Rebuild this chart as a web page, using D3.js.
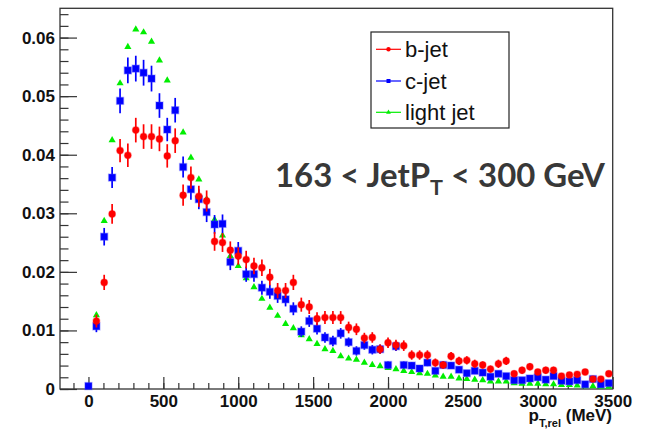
<!DOCTYPE html>
<html>
<head>
<meta charset="utf-8">
<script src="https://cdnjs.cloudflare.com/ajax/libs/d3/7.8.5/d3.min.js"></script>
<style>
  body { margin: 0; background: #fff; }
  svg { display: block; }
</style>
</head>
<body>
<svg width="646" height="429"></svg>
<script>
// bin centres of the pTrel histogram (MeV)
var binCenters = [0, 53, 105, 158, 211, 263, 316, 368, 421, 474, 526, 579, 632, 684, 737, 789,
    842, 895, 947, 1000, 1053, 1105, 1158, 1211, 1263, 1316, 1368, 1421, 1474, 1526, 1579, 1632,
    1684, 1737, 1789, 1842, 1895, 1947, 2000, 2053, 2105, 2158, 2211, 2263, 2316, 2368, 2421, 2474,
    2526, 2579, 2632, 2684, 2737, 2789, 2842, 2895, 2947, 3000, 3053, 3105, 3158, 3211, 3263, 3316,
    3368, 3421, 3474];

// normalised contents
var bJet = [null, 0.0116, 0.0182, 0.0299, 0.0407, 0.0399, 0.0442, 0.0431, 0.0431, 0.0427, 0.0398, 0.0424,
    0.0331, 0.0361, 0.0329, 0.0321, 0.0252, 0.0250, 0.0237, 0.0227, 0.0221, 0.0210, 0.0207, 0.0191,
    0.0168, 0.0168, 0.0182, 0.0144, 0.0140, 0.0120, 0.0122, 0.0122, 0.0122, 0.0105, 0.0102, 0.0087,
    0.0088, 0.0068, 0.0079, 0.0075, 0.0074, 0.0058, 0.0058, 0.0058, 0.0045, 0.0041, 0.0056, 0.0048,
    0.0049, 0.0043, 0.0041, 0.0034, 0.0043, 0.0048, 0.0026, 0.0032, 0.0038, 0.0029, 0.0032, 0.0032,
    0.0022, 0.0024, 0.0025, 0.0029, 0.0017, 0.0017, 0.0026];
var bJetErr = [0, 0.0011, 0.0013, 0.0017, 0.0020, 0.0020, 0.0021, 0.0021, 0.0021, 0.0021, 0.0020, 0.0021,
    0.0018, 0.0019, 0.0018, 0.0018, 0.0016, 0.0016, 0.0015, 0.0015, 0.0015, 0.0014, 0.0014, 0.0014,
    0.0013, 0.0013, 0.0013, 0.0012, 0.0012, 0.0011, 0.0011, 0.0011, 0.0011, 0.0010, 0.0010, 0.0009,
    0.0009, 0.0008, 0.0009, 0.0009, 0.0009, 0.0008, 0.0008, 0.0008, 0.0007, 0.0006, 0.0007, 0.0007,
    0.0007, 0.0007, 0.0006, 0.0006, 0.0007, 0.0007, 0.0005, 0.0006, 0.0006, 0.0005, 0.0006, 0.0006,
    0.0005, 0.0005, 0.0005, 0.0005, 0.0004, 0.0004, 0.0005];

var cJet = [0.0005, 0.0107, 0.0260, 0.0361, 0.0492, 0.0544, 0.0547, 0.0540, 0.0530, 0.0484, 0.0443, 0.0476,
    0.0379, 0.0341, 0.0324, 0.0302, 0.0281, 0.0282, 0.0217, 0.0236, 0.0196, 0.0196, 0.0173, 0.0166,
    0.0159, 0.0153, 0.0137, 0.0098, 0.0116, 0.0103, 0.0088, 0.0082, 0.0095, 0.0080, 0.0065, 0.0075,
    0.0067, 0.0068, 0.0041, 0.0073, 0.0041, 0.0040, 0.0035, 0.0045, 0.0031, 0.0041, 0.0040, 0.0033,
    0.0027, 0.0031, 0.0028, 0.0021, 0.0026, 0.0022, 0.0015, 0.0015, 0.0018, 0.0020, 0.0016, 0.0022,
    0.0014, 0.0013, 0.0015, 0.0008, 0.0017, 0.0008, 0.0010];
var cJetErr = [0.0002, 0.0010, 0.0015, 0.0018, 0.0021, 0.0022, 0.0022, 0.0022, 0.0022, 0.0021, 0.0020, 0.0021,
    0.0018, 0.0018, 0.0017, 0.0017, 0.0016, 0.0016, 0.0014, 0.0015, 0.0013, 0.0013, 0.0012, 0.0012,
    0.0012, 0.0012, 0.0011, 0.0009, 0.0010, 0.0010, 0.0009, 0.0009, 0.0009, 0.0008, 0.0008, 0.0008,
    0.0008, 0.0008, 0.0006, 0.0008, 0.0006, 0.0006, 0.0006, 0.0006, 0.0005, 0.0006, 0.0006, 0.0005,
    0.0005, 0.0005, 0.0005, 0.0004, 0.0005, 0.0004, 0.0004, 0.0004, 0.0004, 0.0004, 0.0004, 0.0004,
    0.0004, 0.0003, 0.0004, 0.0003, 0.0004, 0.0003, 0.0003];

var lightJet = [null, 0.0126, 0.0287, 0.0425, 0.0522, 0.0584, 0.0614, 0.0609, 0.0593, 0.0561, 0.0527, 0.0477,
    0.0438, 0.0395, 0.0358, 0.0324, 0.0289, 0.0262, 0.0227, 0.0210, 0.0189, 0.0174, 0.0154, 0.0139,
    0.0125, 0.0111, 0.0104, 0.0092, 0.0085, 0.0077, 0.0068, 0.0065, 0.0056, 0.0052, 0.0050, 0.0045,
    0.0041, 0.0039, 0.0036, 0.0034, 0.0031, 0.0029, 0.0027, 0.0026, 0.0023, 0.0021, 0.0021, 0.0018,
    0.0017, 0.0016, 0.0015, 0.0013, 0.0013, 0.0013, 0.0010, 0.0009, 0.0009, 0.0009, 0.0008, 0.0008,
    0.0007, 0.0007, 0.0006, 0.0005, 0.0005, 0.0004, 0.0004];

var xTicks = [0, 500, 1000, 1500, 2000, 2500, 3000, 3500];
var yTicks = [0, 0.01, 0.02, 0.03, 0.04, 0.05, 0.06];
var legendLabels = ["b-jet", "c-jet", "light jet"];

var svg = d3.select("svg"),
    frameL = 60, frameR = 612.7, frameT = 8.3, frameB = 389;

var x = d3.scaleLinear().domain([-190, 3500]).range([frameL, frameR]);
var y = d3.scaleLinear().domain([0, 0.065]).range([frameB, frameT]);

var axisColor = "#333";
var tickFont = "'Liberation Sans', Arial, sans-serif";

function styleTicks(g){
    g.select(".domain").remove();
    g.selectAll("line").attr("stroke", axisColor).attr("stroke-width", 1.2);
    g.selectAll("text").attr("font-family", tickFont).attr("font-weight", "bold")
        .attr("font-size", 17).attr("fill", "#111");
}

// y axis: major + minor ticks pointing inwards
var yMinor = d3.range(0, 0.0649, 0.002);
svg.append("g")
    .attr("transform", "translate(" + frameL + ",0)")
    .call(d3.axisLeft(y).tickValues(yMinor).tickSizeInner(-8.5).tickSizeOuter(0).tickFormat(""))
    .call(styleTicks);

svg.append("g")
    .attr("transform", "translate(" + frameL + ",0)")
    .call(d3.axisLeft(y).tickValues(yTicks).tickSizeInner(-17).tickSizeOuter(0).tickPadding(5)
        .tickFormat(function(d){ return d === 0 ? "0" : d3.format(".2f")(d); }))
    .call(styleTicks);

// x axis
var xMinor = d3.range(-100, 3401, 100);
svg.append("g")
    .attr("transform", "translate(0," + frameB + ")")
    .call(d3.axisBottom(x).tickValues(xMinor).tickSizeInner(-6).tickSizeOuter(0).tickFormat(""))
    .call(styleTicks);

svg.append("g")
    .attr("transform", "translate(0," + frameB + ")")
    .call(d3.axisBottom(x).tickValues(xTicks).tickSizeInner(-12).tickSizeOuter(0).tickPadding(6)
        .tickFormat(d3.format("d")))
    .call(styleTicks);

// frame
svg.append("rect")
    .attr("x", frameL).attr("y", frameT)
    .attr("width", frameR - frameL).attr("height", frameB - frameT)
    .attr("fill", "none").attr("stroke", axisColor).attr("stroke-width", 1.3);

// series, drawn light -> c -> b so red sits on top
var series = [
    {name: "light", values: lightJet, errs: null, color: "#00ee00", shape: "tri"},
    {name: "c", values: cJet, errs: cJetErr, color: "#0000ff", shape: "sq"},
    {name: "b", values: bJet, errs: bJetErr, color: "#ff0000", shape: "dot"}
];

var plot = svg.append("g");

series.forEach(function(s){
    var pts = binCenters.map(function(c, i){
        return {x: c, v: s.values[i], e: s.errs ? s.errs[i] : 0};
    }).filter(function(d){ return d.v !== null; });

    var g = plot.append("g");

    if (s.errs) {
        g.selectAll("line.err")
            .data(pts)
            .enter().append("line")
            .attr("class", "err")
            .attr("x1", function(d){ return x(d.x); })
            .attr("x2", function(d){ return x(d.x); })
            .attr("y1", function(d){ return y(Math.max(d.v - d.e, 0)); })
            .attr("y2", function(d){ return y(d.v + d.e); })
            .attr("stroke", s.color)
            .attr("stroke-width", 1.7);
    }

    if (s.shape === "dot") {
        g.selectAll("circle")
            .data(pts)
            .enter().append("circle")
            .attr("cx", function(d){ return x(d.x); })
            .attr("cy", function(d){ return y(d.v); })
            .attr("r", 3.4)
            .attr("fill", s.color)
            .attr("stroke", "rgba(255,0,0,0.35)")
            .attr("stroke-width", 1.2);
    } else if (s.shape === "sq") {
        g.selectAll("rect")
            .data(pts)
            .enter().append("rect")
            .attr("x", function(d){ return x(d.x) - 3.5; })
            .attr("y", function(d){ return y(d.v) - 3.5; })
            .attr("width", 7).attr("height", 7)
            .attr("fill", s.color)
            .attr("stroke", "rgba(60,60,255,0.35)")
            .attr("stroke-width", 1.4);
    } else {
        var tri = d3.symbol().type(d3.symbolTriangle).size(22);
        g.selectAll("path")
            .data(pts)
            .enter().append("path")
            .attr("d", tri)
            .attr("transform", function(d){ return "translate(" + x(d.x) + "," + y(d.v) + ")"; })
            .attr("fill", s.color);
    }
});

// legend
var legend = svg.append("g");
legend.append("rect")
    .attr("x", 371).attr("y", 32).attr("width", 138).attr("height", 96)
    .attr("fill", "#fff").attr("stroke", "#222").attr("stroke-width", 1.2);

var legendColors = ["#ff0000", "#0000ff", "#00ee00"];
var legendY = [49.3, 81, 112.3];

legendLabels.forEach(function(lbl, i){
    var ly = legendY[i];
    legend.append("line")
        .attr("x1", 376).attr("x2", 401).attr("y1", ly).attr("y2", ly)
        .attr("stroke", legendColors[i]).attr("stroke-width", 1.2);
    if (i === 0) {
        legend.append("circle").attr("cx", 388.5).attr("cy", ly).attr("r", 2.2).attr("fill", legendColors[i]);
    } else if (i === 1) {
        legend.append("rect").attr("x", 386.5).attr("y", ly - 2).attr("width", 4).attr("height", 4).attr("fill", legendColors[i]);
    } else {
        legend.append("path").attr("d", d3.symbol().type(d3.symbolTriangle).size(10))
            .attr("transform", "translate(388.5," + ly + ")").attr("fill", legendColors[i]);
    }
    legend.append("text")
        .attr("x", 405).attr("y", ly + 7.5)
        .attr("font-family", "'Liberation Sans', Arial, sans-serif")
        .attr("font-size", 22)
        .attr("fill", "#111")
        .text(lbl);
});

// axis title
var xt = svg.append("text")
    .attr("text-anchor", "end")
    .attr("x", 612).attr("y", 421)
    .attr("font-family", tickFont).attr("font-weight", "bold")
    .attr("font-size", 17).attr("fill", "#111");
xt.append("tspan").text("p");
xt.append("tspan").attr("font-size", 11).attr("dy", 6).text("T,rel");
xt.append("tspan").attr("dy", -6).text(" (MeV)");

// jet pT range label
var note = svg.append("text")
    .attr("x", 275).attr("y", 187)
    .attr("font-family", "Lato, 'Open Sans', sans-serif").attr("font-weight", "bold")
    .attr("font-size", 32).attr("fill", "#383838");
note.append("tspan").text("163 < JetP");
note.append("tspan").attr("font-size", 21).attr("dy", 8).text("T");
note.append("tspan").attr("dy", -8).text(" < 300 GeV");

// fit the label width to the reference (~330 px)
var w = note.node().getComputedTextLength();
if (w > 0) {
    var k = 330 / w;
    note.attr("font-size", 32 * k);
    note.selectAll("tspan").filter(function(d, i){ return i === 1; }).attr("font-size", 21 * k);
}
</script>
</body>
</html>
